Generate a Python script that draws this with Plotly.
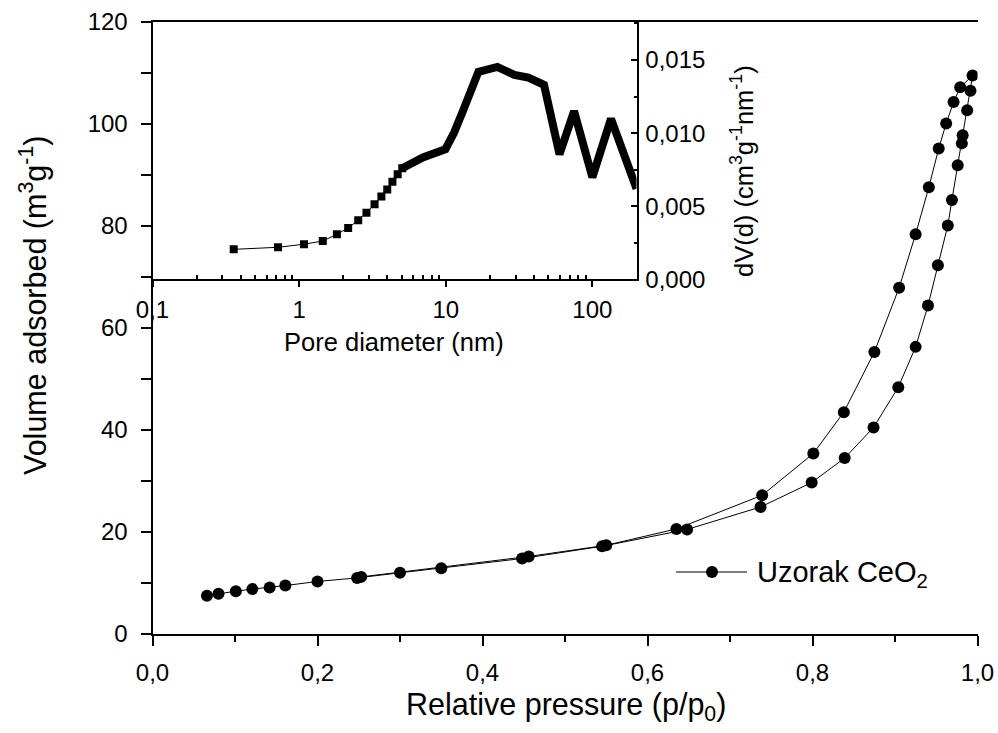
import plotly.graph_objects as go

# ---------------- data ----------------
# Isotherm (adsorption up, then desorption down)
p_ads = [0.066, 0.080, 0.101, 0.121, 0.142, 0.161, 0.200, 0.248, 0.300, 0.350,
         0.448, 0.545, 0.648, 0.737, 0.799, 0.839, 0.874, 0.904, 0.925, 0.940,
         0.952, 0.964, 0.969, 0.976, 0.981, 0.982, 0.9875, 0.9915, 0.994]
v_ads = [7.5, 7.9, 8.4, 8.8, 9.1, 9.5, 10.3, 11.0, 12.0, 12.9,
         14.8, 17.2, 20.5, 24.9, 29.7, 34.5, 40.5, 48.4, 56.3, 64.4,
         72.3, 80.1, 85.1, 91.9, 96.2, 97.8, 102.7, 106.5, 109.5]
p_des = [0.979, 0.971, 0.962, 0.953, 0.941, 0.925, 0.905, 0.875, 0.838, 0.801,
         0.739, 0.635, 0.550, 0.456, 0.253]
v_des = [107.2, 104.3, 100.1, 95.2, 87.6, 78.4, 67.9, 55.3, 43.5, 35.4,
         27.2, 20.6, 17.4, 15.2, 11.2]

# Pore size distribution (inset)
pore_d = [0.358, 0.718, 1.08, 1.45, 1.81, 2.16, 2.53, 2.88, 3.27, 3.64, 3.99,
          4.33, 4.70, 5.05, 6.98, 9.95, 11.4, 13.1, 15.0, 16.7, 22.5, 29.4,
          36.6, 46.8, 59.7, 75.0, 100.0, 134.0, 200.0]
dv = [0.00205, 0.00219, 0.00240, 0.00262, 0.00308, 0.00351, 0.00404, 0.00456,
      0.00513, 0.00566, 0.00614, 0.00668, 0.00719, 0.00760, 0.00833, 0.00890,
      0.01004, 0.01152, 0.01312, 0.01419, 0.01453, 0.01398, 0.01380, 0.01330,
      0.00855, 0.01150, 0.00698, 0.01098, 0.00620]
n_sparse = 14  # first points drawn as separate square markers

x_ticks = [0.0, 0.2, 0.4, 0.6, 0.8, 1.0]
y_ticks = [0, 20, 40, 60, 80, 100, 120]
inset_x_ticks = [0.1, 1, 10, 100]
inset_x_labels = ["0,1", "1", "10", "100"]
inset_y_ticks = [0.0, 0.005, 0.010, 0.015]

# ---------------- layout helpers ----------------
W, H = 998, 733
def fx(px):
    return px / W
def fy(py):
    return 1 - py / H

FONT = "Liberation Sans, Arial, sans-serif"
BLACK = "#000000"

fig = go.Figure()

fig.add_trace(go.Scatter(
    x=p_ads + p_des, y=v_ads + v_des, mode="lines+markers",
    line=dict(color=BLACK, width=1),
    marker=dict(symbol="circle", size=12, color=BLACK),
    xaxis="x", yaxis="y", showlegend=False, name="Uzorak CeO2"))

fig.add_trace(go.Scatter(
    x=pore_d[:n_sparse], y=dv[:n_sparse], mode="lines+markers",
    line=dict(color=BLACK, width=1),
    marker=dict(symbol="square", size=8, color=BLACK),
    xaxis="x3", yaxis="y3", showlegend=False))
fig.add_trace(go.Scatter(
    x=pore_d[n_sparse - 1:], y=dv[n_sparse - 1:], mode="lines",
    line=dict(color=BLACK, width=8),
    xaxis="x3", yaxis="y3", showlegend=False))

main_x_dom = [fx(152.5), fx(977.5)]
main_y_dom = [fy(634), fy(22)]
ins_x_dom = [fx(152.5), fx(636.5)]
ins_y_dom = [fy(279.3), fy(22)]

axis_common = dict(showline=True, linecolor=BLACK, linewidth=2, showgrid=False,
                   zeroline=False, tickcolor=BLACK, tickwidth=2, automargin=False,
                   tickfont=dict(family=FONT, size=24, color=BLACK))

fig.update_layout(
    template="none",
    width=W, height=H, margin=dict(l=0, r=0, t=0, b=0, pad=0),
    paper_bgcolor="white", plot_bgcolor="rgba(0,0,0,0)",
    separators=", ",
    font=dict(family=FONT, color=BLACK),
    xaxis=dict(domain=main_x_dom, range=[0, 1], anchor="y",
               tickmode="array", tickvals=x_ticks, tickformat=".1f",
               ticks="outside", ticklen=10, mirror=True,
               minor=dict(dtick=0.1, tick0=0, ticks="outside", ticklen=6,
                          tickcolor=BLACK, tickwidth=2),
               ticklabelstandoff=6, **axis_common),
    yaxis=dict(domain=main_y_dom, range=[0, 120], anchor="x",
               tickmode="array", tickvals=y_ticks,
               ticks="outside", ticklen=10,
               minor=dict(dtick=10, tick0=0, ticks="outside", ticklen=10,
                          tickcolor=BLACK, tickwidth=2),
               ticklabelstandoff=8, **axis_common),
    yaxis2=dict(overlaying="y", side="right", anchor="x", range=[0, 120],
                tickmode="linear", tick0=0, dtick=10, ticks="inside",
                ticklen=5, showticklabels=False, **axis_common),
    xaxis3=dict(domain=ins_x_dom, type="log", range=[-1, 2.30103], anchor="y3",
                tickmode="array", tickvals=inset_x_ticks, ticktext=inset_x_labels,
                ticks="outside", ticklen=6,
                minor=dict(tickvals=[0.2, 0.3, 0.4, 0.5, 0.6, 0.7, 0.8, 0.9,
                                     2, 3, 4, 5, 6, 7, 8, 9,
                                     20, 30, 40, 50, 60, 70, 80, 90],
                           ticks="inside", ticklen=4, tickcolor=BLACK, tickwidth=2),
                ticklabelstandoff=2, **axis_common),
    yaxis3=dict(domain=ins_y_dom, range=[0, 0.0176], anchor="x3", side="right",
                tickmode="array", tickvals=inset_y_ticks, tickformat=".3f",
                ticks="inside", ticklen=6,
                minor=dict(dtick=0.0025, tick0=0, ticks="inside", ticklen=3,
                           tickcolor=BLACK, tickwidth=2),
                ticklabelstandoff=2, **axis_common),
)

annots = [
    dict(text="Relative pressure (p/p<sub>0</sub>)", x=fx(566), y=fy(706),
         xanchor="center", yanchor="middle", font=dict(size=30.5)),
    dict(text="Volume adsorbed (m<sup>3</sup>g<sup>-1</sup>)", x=fx(33), y=fy(306),
         xanchor="center", yanchor="middle", textangle=-90, font=dict(size=30.5)),
    dict(text="Pore diameter (nm)", x=fx(394), y=fy(342),
         xanchor="center", yanchor="middle", font=dict(size=25.5)),
    dict(text="dV(d) (cm<sup>3</sup>g<sup>-1</sup>nm<sup>-1</sup>)", x=fx(742), y=fy(171),
         xanchor="center", yanchor="middle", textangle=-90, font=dict(size=25.5)),
    dict(text="Uzorak CeO<sub>2</sub>", x=fx(755), y=fy(574),
         xanchor="left", yanchor="middle", font=dict(size=29)),
]
for a in annots:
    a.update(xref="paper", yref="paper", showarrow=False)
    a["font"].update(family=FONT, color=BLACK)
fig.update_layout(annotations=annots)

# legend symbol (line with a marker)
fig.add_shape(type="line", xref="paper", yref="paper",
              x0=fx(676), x1=fx(747), y0=fy(572), y1=fy(572),
              line=dict(color=BLACK, width=1))
fig.add_shape(type="circle", xref="paper", yref="paper",
              x0=fx(706), x1=fx(718), y0=fy(578), y1=fy(566),
              line=dict(color=BLACK, width=0), fillcolor=BLACK)

fig.write_html("out.html")
